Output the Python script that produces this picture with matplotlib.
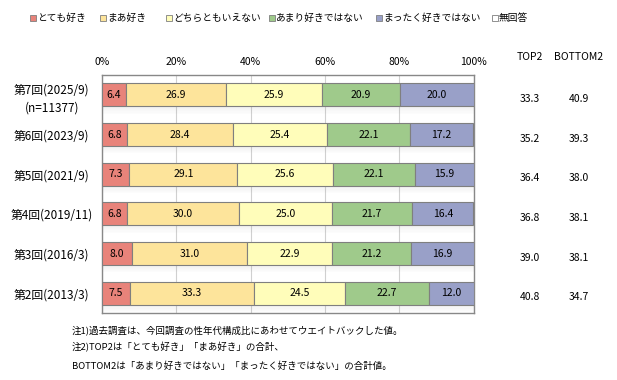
import matplotlib
matplotlib.use("Agg")
import matplotlib.pyplot as plt
from matplotlib.patches import Rectangle

plt.rcParams['font.family'] = ['Noto Sans CJK JP', 'DejaVu Sans']

categories = ["第7回(2025/9)\n(n=11377)", "第6回(2023/9)", "第5回(2021/9)",
              "第4回(2019/11)", "第3回(2016/3)", "第2回(2013/3)"]
series_names = ["とても好き", "まあ好き", "どちらともいえない", "あまり好きではない", "まったく好きではない", "無回答"]
totemo = [6.4, 6.8, 7.3, 6.8, 8.0, 7.5]
maa = [26.9, 28.4, 29.1, 30.0, 31.0, 33.3]
dochira = [25.9, 25.4, 25.6, 25.0, 22.9, 24.5]
amari = [20.9, 22.1, 22.1, 21.7, 21.2, 22.7]
mattaku = [20.0, 17.2, 15.9, 16.4, 16.9, 12.0]
top2 = [33.3, 35.2, 36.4, 36.8, 39.0, 40.8]
bottom2 = [40.9, 39.3, 38.0, 38.1, 38.1, 34.7]
xticks = [0, 20, 40, 60, 80, 100]
notes = ["注1)過去調査は、今回調査の性年代構成比にあわせてウエイトバックした値。",
         "注2)TOP2は「とても好き」「まあ好き」の合計、",
         "BOTTOM2は「あまり好きではない」「まったく好きではない」の合計値。"]

colors = ["#E8837A", "#FDE49B", "#FFFDBA", "#9FCA8B", "#99A0C8", "#FFFFFF"]
edge = "#7F7F7F"

fig = plt.figure(figsize=(6.17, 3.80), dpi=100)
ax = fig.add_axes([0.1653, 0.176, 0.6027, 0.6266])

n = len(categories)
ys = list(range(n))
h = 0.58
series = [totemo, maa, dochira, amari, mattaku]

# shadows
for y in ys:
    for k in range(6):
        ax.barh(y + h/2 + 0.02 + k*0.03, 100, height=0.03, left=0, color="#808080",
                alpha=0.10 - k*0.015, linewidth=0, zorder=1)

left = [0.0]*n
for vals, c in zip(series, colors):
    ax.barh(ys, vals, left=left, height=h, color=c, edgecolor=edge, linewidth=0.8, zorder=3)
    for i, v in enumerate(vals):
        ax.text(left[i] + v/2, ys[i], f"{v:.1f}", ha="center", va="center", fontsize=7.5,
                color="black", zorder=4)
    left = [l + v for l, v in zip(left, vals)]

ax.set_xlim(0, 100)
ax.set_ylim(n - 0.5, -0.5)
ax.set_xticks(xticks)
ax.set_xticklabels([f"{t}%" for t in xticks], fontsize=7.5)
ax.xaxis.tick_top()
ax.tick_params(axis="x", length=0, pad=6)
ax.set_yticks(ys)
ax.set_yticklabels(categories, fontsize=8.5, linespacing=1.5)
ax.tick_params(axis="y", length=0, pad=4)
for lbl in ax.get_yticklabels():
    lbl.set_horizontalalignment("center")
    lbl.set_x(-0.12)
ax.xaxis.grid(True, color="#D0D0D0", linewidth=0.8, zorder=0)
ax.set_axisbelow(True)
for s in ax.spines.values():
    s.set_color("#888888")
    s.set_linewidth(1.0)

# TOP2 / BOTTOM2 columns
fig.text(530/617, 1 - 57/380, "TOP2", ha="center", va="center", fontsize=7.5)
fig.text(579/617, 1 - 57/380, "BOTTOM2", ha="center", va="center", fontsize=7.5)
for i in range(n):
    ydisp = ax.transData.transform((0, ys[i]))[1] / fig.bbox.height - 4/380
    fig.text(530/617, ydisp, f"{top2[i]:.1f}", ha="center", va="center", fontsize=7.5)
    fig.text(579/617, ydisp, f"{bottom2[i]:.1f}", ha="center", va="center", fontsize=7.5)

# legend
leg_x = [30, 100, 166, 269, 376, 492]
for xpx, name, c in zip(leg_x, series_names, colors):
    fig.patches.append(Rectangle((xpx/617, 1 - 21/380), 6/617, 6/380, transform=fig.transFigure,
                                 facecolor=c, edgecolor="#7F7F7F", linewidth=0.6))
    fig.text((xpx + 7)/617, 1 - 18/380, name, ha="left", va="center", fontsize=7)

# notes
note_y = [330, 347, 366]
for t, yp in zip(notes, note_y):
    fig.text(72/617, 1 - yp/380, t, ha="left", va="center", fontsize=6.8)

fig.savefig("out.png", dpi=100)
